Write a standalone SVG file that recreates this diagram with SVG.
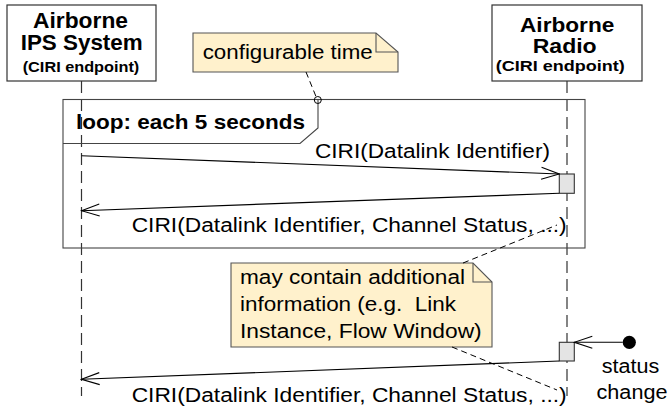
<svg xmlns="http://www.w3.org/2000/svg" width="668" height="407" viewBox="0 0 668 407">
<style>
text{font-family:"Liberation Sans",Arial,sans-serif;fill:#000}
.b{font-weight:bold}
.box{fill:#fff;stroke:#333;stroke-width:1.2}
.life{stroke:#333;stroke-width:1.2;stroke-dasharray:12,6;fill:none}
.msg{stroke:#000;stroke-width:1.1;fill:none}
.act{fill:#e4e4e4;stroke:#333;stroke-width:1.1}
.note{fill:#fff1cc;stroke:#555;stroke-width:1.1}
.fold{fill:none;stroke:#555;stroke-width:1.1}
.anchor{stroke:#000;stroke-width:1;stroke-dasharray:6,4;fill:none}
.frame{fill:none;stroke:#444;stroke-width:1.1}
</style>
<defs>
<marker id="open" viewBox="0 0 20 14" refX="19" refY="7" markerWidth="20" markerHeight="14" markerUnits="userSpaceOnUse" orient="auto">
<path d="M1,1 L19,7 L1,13" fill="none" stroke="#000" stroke-width="1.1"/>
</marker>
</defs>

<g id="lifelines">
<line class="life" x1="81.5" y1="81" x2="81.5" y2="396"/>
<line class="life" x1="567" y1="81" x2="567" y2="396"/>
</g>

<g id="participant-ips">
<rect class="box" x="7" y="5" width="149" height="76"/>
<text class="b" x="33" y="27.5" font-size="21.5" textLength="95" lengthAdjust="spacingAndGlyphs">Airborne</text>
<text class="b" x="20.7" y="50" font-size="21.5" textLength="122" lengthAdjust="spacingAndGlyphs">IPS System</text>
<text class="b" x="22.7" y="72" font-size="15" textLength="116.6" lengthAdjust="spacingAndGlyphs">(CIRI endpoint)</text>
</g>

<g id="participant-radio">
<rect class="box" x="492" y="5" width="150" height="76"/>
<text class="b" x="520" y="31.5" font-size="21" textLength="94.3" lengthAdjust="spacingAndGlyphs">Airborne</text>
<text class="b" x="532.7" y="53" font-size="21" textLength="64" lengthAdjust="spacingAndGlyphs">Radio</text>
<text class="b" x="495.7" y="71" font-size="15" textLength="129" lengthAdjust="spacingAndGlyphs">(CIRI endpoint)</text>
</g>

<g id="loop-frame">
<rect class="frame" x="63" y="99.5" width="522" height="148.5"/>
<path class="frame" d="M63,143.5 L300,143.5 L318,128 L318,99.5"/>
<text class="b" x="76" y="128.5" font-size="20.5" textLength="229" lengthAdjust="spacingAndGlyphs">loop: each 5 seconds</text>
</g>

<g id="activation-1">
<rect class="act" x="559.3" y="174" width="15" height="19.3"/>
</g>
<g id="activation-2">
<rect class="act" x="559.3" y="342.3" width="15" height="18.7"/>
</g>

<g id="note-configurable">
<path class="note" d="M193,33 L376,33 L398,52 L398,72 L193,72 Z"/>
<path class="fold" d="M376,33 L376,52 L398,52"/>
<text x="202.7" y="59" font-size="20" textLength="170" lengthAdjust="spacingAndGlyphs">configurable time</text>
</g>

<g id="note-additional">
<path class="note" d="M231,263 L473,263 L492,282 L492,347 L231,347 Z"/>
<path class="fold" d="M473,263 L473,282 L492,282"/>
<text x="240" y="284" font-size="20" textLength="225" lengthAdjust="spacingAndGlyphs">may contain additional</text>
<text x="240" y="311" font-size="20" textLength="216" lengthAdjust="spacingAndGlyphs" style="white-space:pre">information (e.g.  Link</text>
<text x="240" y="337.5" font-size="20" textLength="241.7" lengthAdjust="spacingAndGlyphs">Instance, Flow Window)</text>
</g>

<g id="status-change">
<circle cx="629.3" cy="342.3" r="6.6" fill="#000"/>
<text x="630.5" y="373" font-size="20" text-anchor="middle" textLength="57.6" lengthAdjust="spacingAndGlyphs">status</text>
<text x="632" y="399" font-size="20" text-anchor="middle" textLength="70.9" lengthAdjust="spacingAndGlyphs">change</text>
</g>

<g id="connectors">
<line class="msg" x1="81.5" y1="155.7" x2="559.3" y2="174" marker-end="url(#open)"/>
<line class="msg" x1="559.3" y1="193.3" x2="81.5" y2="210.7" marker-end="url(#open)"/>
<line class="msg" x1="622.7" y1="342.3" x2="574.3" y2="342.3" marker-end="url(#open)"/>
<line class="msg" x1="559.3" y1="361" x2="81.5" y2="379.3" marker-end="url(#open)"/>
<text x="315" y="157.5" font-size="20" textLength="235" lengthAdjust="spacingAndGlyphs">CIRI(Datalink Identifier)</text>
<text x="131.7" y="232" font-size="20" textLength="435" lengthAdjust="spacingAndGlyphs">CIRI(Datalink Identifier, Channel Status, ...)</text>
<text x="131.7" y="401.5" font-size="20" textLength="435" lengthAdjust="spacingAndGlyphs">CIRI(Datalink Identifier, Channel Status, ...)</text>
<line class="anchor" x1="306" y1="72" x2="316" y2="96.5"/>
<circle cx="317.8" cy="100" r="3.5" fill="none" stroke="#000" stroke-width="1"/>
<line class="anchor" x1="463" y1="263" x2="557" y2="225"/>
<line class="anchor" x1="452" y1="347" x2="557" y2="390"/>
</g>
</svg>
